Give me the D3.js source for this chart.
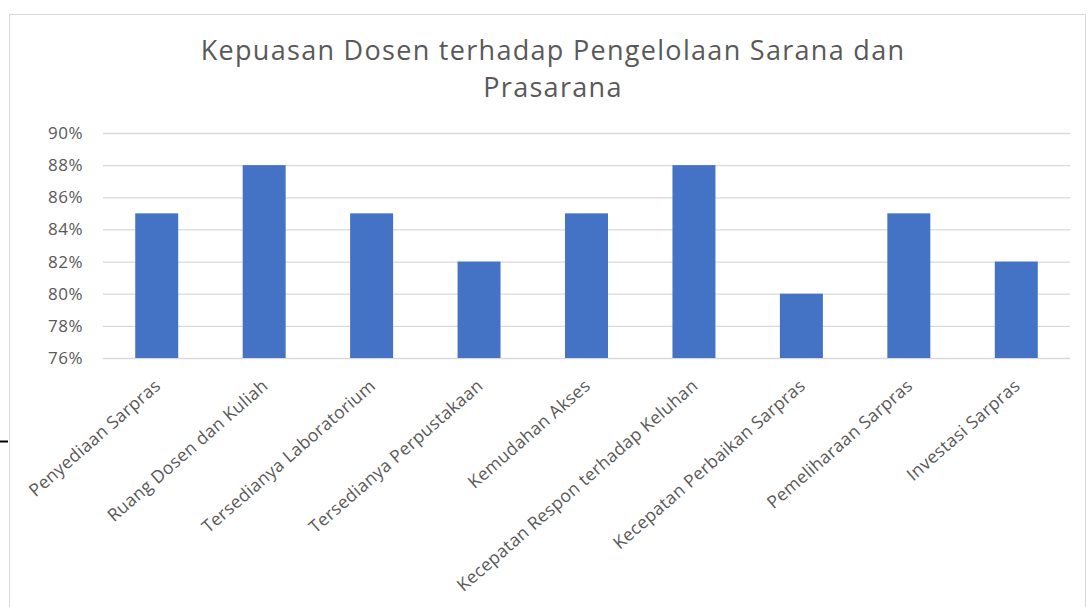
<!DOCTYPE html>
<html>
<head>
<meta charset="utf-8">
<script src="https://cdn.jsdelivr.net/npm/d3@7"></script>
<style>
  body { margin: 0; background: #fff; }
  text { font-family: "Open Sans", sans-serif; fill: #595959; }
</style>
</head>
<body>
<div id="chart"></div>
<script>
// data
var categories = ["Penyediaan Sarpras", "Ruang Dosen dan Kuliah", "Tersedianya Laboratorium",
    "Tersedianya Perpustakaan", "Kemudahan Akses", "Kecepatan Respon terhadap Keluhan",
    "Kecepatan Perbaikan Sarpras", "Pemeliharaan Sarpras", "Investasi Sarpras"];
var values = [0.85, 0.88, 0.85, 0.82, 0.85, 0.88, 0.80, 0.85, 0.82];
var yTicks = [0.76, 0.78, 0.80, 0.82, 0.84, 0.86, 0.88, 0.90];
var titleLines = ["Kepuasan Dosen terhadap Pengelolaan Sarana dan", "Prasarana"];

var W = 1088, H = 607;
var plot = {left: 103, right: 1070, top: 133, bottom: 358};

var svg = d3.select("#chart").append("svg")
    .attr("width", W)
    .attr("height", H);

// chart area frame
svg.append("rect")
    .attr("x", 9.5).attr("y", 14.5)
    .attr("width", 1076).attr("height", 610)
    .attr("fill", "#fff")
    .attr("stroke", "#d9d9d9");

// stray black tick at left edge
svg.append("line")
    .attr("x1", 0).attr("x2", 8)
    .attr("y1", 441.5).attr("y2", 441.5)
    .attr("stroke", "#000").attr("stroke-width", 2);

var x = d3.scaleBand()
    .domain(categories)
    .range([plot.left, plot.right])
    .padding(0);

var y = d3.scaleLinear()
    .domain([0.76, 0.90])
    .range([plot.bottom, plot.top]);

var barW = x.bandwidth() * 0.4;

// title
svg.append("g")
    .selectAll("text")
    .data(titleLines)
    .enter().append("text")
    .attr("x", 553)
    .attr("y", function(d, i) { return 60 + i * 37; })
    .attr("text-anchor", "middle")
    .style("font-size", "27px")
    .style("letter-spacing", "1.3px")
    .text(function(d) { return d; });

// y axis with gridlines
var yAxis = d3.axisLeft(y)
    .tickValues(yTicks)
    .tickFormat(d3.format(".0%"))
    .tickSize(-(plot.right - plot.left))
    .tickPadding(20);

svg.append("g")
    .attr("transform", "translate(" + plot.left + ",0)")
    .call(yAxis)
    .call(function(g) {
        g.select(".domain").remove();
        g.selectAll(".tick line").attr("stroke", "#d9d9d9").attr("stroke-width", 1.3);
        g.selectAll(".tick text").style("font-size", "17px").attr("fill", "#595959")
            .style("letter-spacing", "0.5px")
            .style("font-family", "'Open Sans', sans-serif");
    });

// bars
svg.append("g")
    .selectAll("rect")
    .data(values)
    .enter().append("rect")
    .attr("x", function(d, i) { return x(categories[i]) + (x.bandwidth() - barW) / 2; })
    .attr("y", function(d) { return y(d); })
    .attr("width", barW)
    .attr("height", function(d) { return y(0.76) - y(d); })
    .attr("fill", "#4472c4");

// x labels
svg.append("g")
    .selectAll("text")
    .data(categories)
    .enter().append("text")
    .attr("transform", function(d) {
        return "translate(" + (x(d) + x.bandwidth() / 2 + 1) + "," + (plot.bottom + 25) + ") rotate(-41)";
    })
    .attr("text-anchor", "end")
    .attr("dy", "0.35em")
    .style("font-size", "17.5px")
    .style("letter-spacing", "0.3px")
    .text(function(d) { return d; });
</script>
</body>
</html>
